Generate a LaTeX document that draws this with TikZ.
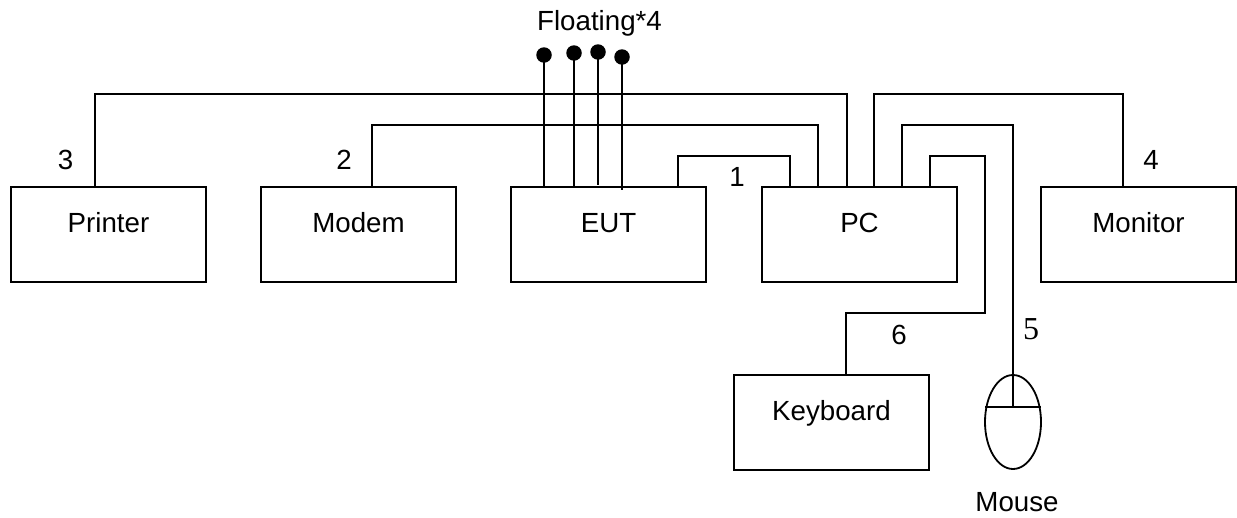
\documentclass[tikz,border=0pt]{standalone}
\usepackage{fontspec}
\setmainfont{Liberation Sans}
\newfontfamily\numfont{Liberation Serif}
\usetikzlibrary{shapes.geometric}
\tikzset{
	unit/.style={draw,line width=2pt,outer sep=0pt,inner sep=0pt,minimum width=195pt,minimum height=95pt,text height=19.8pt,text depth=23.2pt},
	wire/.style={line width=2pt},
	pin/.style={circle,fill=black,inner sep=0pt,outer sep=0pt,minimum size=15.5pt},
	tag/.style={inner sep=0pt,outer sep=0pt}
}
\begin{document}
\begin{tikzpicture}[x=1pt,y=-1pt,font=\fontsize{27.7}{30}\selectfont]
	\useasboundingbox (0,0) rectangle (1237,517);
	\node[unit] (printer) at (108.5,234.5) {Printer};
	\node[unit] (modem) at (358.5,234.5) {Modem};
	\node[unit] (eut) at (608.5,234.5) {EUT};
	\node[unit] (pc) at (859.5,234.5) {PC};
	\node[unit] (monitor) at (1138.5,234.5) {Monitor};
	\node[unit] (keyboard) at (831.5,422) {Keyboard};
	\node[draw,ellipse,line width=1.8pt,inner sep=0pt,outer sep=0pt,minimum width=56pt,minimum height=94pt] (mouse) at (1013,422) {};
	\node[pin] (pina) at (544,55) {};
	\node[pin] (pinb) at (574,53) {};
	\node[pin] (pinc) at (598,52) {};
	\node[pin] (pind) at (622,57) {};
	\draw[wire] (pina.center) -- (pina|-eut.north);
	\draw[wire] (pinb.center) -- (pinb|-eut.north);
	\draw[wire] (pinc.center) -- ([yshift=2pt]pinc|-eut.north);
	\draw[wire] (pind.center) -- ([yshift=-3pt]pind|-eut.north);
	\draw[wire] ([xshift=-13.5pt]printer.north) -- ++(0,-93) -| ([xshift=-12.5pt]pc.north);
	\draw[wire] ([xshift=13.5pt]modem.north) -- ++(0,-62) -| ([xshift=-41.5pt]pc.north);
	\draw[wire] ([xshift=69.5pt]eut.north) -- ++(0,-31) -| ([xshift=-69.5pt]pc.north);
	\draw[wire] ([xshift=-15.5pt]monitor.north) -- ++(0,-93) -| ([xshift=14.5pt]pc.north);
	\draw[wire] (mouse.north) -- ++(0,-250) -| ([xshift=42.5pt]pc.north);
	\draw[wire] ([xshift=14.5pt]keyboard.north) -- ++(0,-62) -- ++(139,0) -- ++(0,-157) -| ([xshift=70.5pt]pc.north);
	\draw[wire] (mouse.north) -- (1013,407);
	\draw[wire] (985,407) -- (1041,407);
	\node[tag] (floating) at (599.5,23.5) {Floating*4};
	\node[tag] (mousetext) at (1017,502.5) {Mouse};
	\node[tag] (cablec) at (65.5,160) {3};
	\node[tag] (cableb) at (344,160) {2};
	\node[tag] (cablea) at (737,177) {1};
	\node[tag] (cabled) at (1151,160) {4};
	\node[tag] (cablee) at (1031,329) {\fontsize{32}{34}\selectfont\numfont 5};
	\node[tag] (cablef) at (899,335) {6};
\end{tikzpicture}
\end{document}
